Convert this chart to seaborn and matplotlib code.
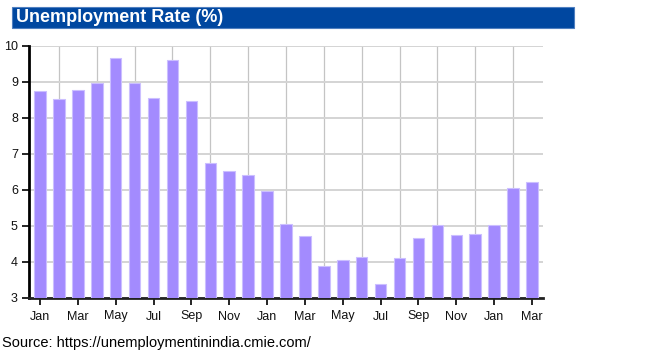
import matplotlib
matplotlib.use("Agg")
import matplotlib.pyplot as plt
import seaborn as sns
import pandas as pd
from matplotlib.patches import Rectangle

# monthly unemployment rate, Jan .. Mar (27 months)
months = ["Jan", "Feb", "Mar", "Apr", "May", "Jun", "Jul", "Aug", "Sep", "Oct", "Nov", "Dec",
          "Jan", "Feb", "Mar", "Apr", "May", "Jun", "Jul", "Aug", "Sep", "Oct", "Nov", "Dec",
          "Jan", "Feb", "Mar"]
rate = [8.74, 8.52, 8.77, 8.96, 9.68, 8.97, 8.56, 9.61, 8.46, 6.75, 6.54, 6.43,
        5.96, 5.06, 4.71, 3.89, 4.05, 4.15, 3.39, 4.11, 4.66, 5.04, 4.75, 4.78,
        5.04, 6.06, 6.22]

df = pd.DataFrame({"idx": range(len(rate)), "rate": rate})

sns.set_style("white")
plt.rcParams["font.family"] = ["Liberation Sans", "DejaVu Sans"]

fig = plt.figure(figsize=(6.47, 3.63), dpi=100)
ax = fig.add_axes([29 / 647, 1 - 298 / 363, (543 - 29) / 647, (298 - 46) / 363])

sns.barplot(data=df, x="idx", y="rate", color="#a38bfe", saturation=1,
            width=0.61, edgecolor="#cbbfff", linewidth=0.8, ax=ax, zorder=3)

ax.set_ylim(3, 10)
ax.set_xlim(-0.58, len(rate) - 1 + 0.58)
ax.set_yticks(range(3, 11))
ax.set_xticks(range(0, len(rate), 2))
ax.set_xticklabels(months[0::2])
ax.set_xticks(range(len(rate)), minor=True)
ax.set_xlabel("")
ax.set_ylabel("")

ax.grid(axis="y", which="major", color="#d4d4d4", linewidth=1.4, zorder=0)
ax.grid(axis="x", which="minor", color="#c4c4c4", linewidth=0.9, zorder=0)
ax.grid(axis="x", which="major", visible=False)
ax.set_axisbelow(True)

for s in ["top", "right"]:
    ax.spines[s].set_visible(False)
ax.spines["left"].set_color("black")
ax.spines["left"].set_linewidth(2)
ax.spines["bottom"].set_color("#222222")
ax.spines["bottom"].set_linewidth(2)
ax.tick_params(axis="both", which="major", direction="out", length=5, width=1.2,
               color="black", labelsize=9, labelcolor="#111111", bottom=True, left=True)
ax.tick_params(axis="x", which="minor", length=0)
ax.tick_params(axis="x", pad=4)
ax.tick_params(axis="y", pad=3)

# title banner
fig.patches.append(Rectangle((12 / 647, 1 - 27.5 / 363), (574 - 12) / 647, 20.5 / 363,
                             transform=fig.transFigure, facecolor="#0047a0",
                             edgecolor="#4f7fc0", linewidth=0.8))
fig.text(16 / 647, 1 - 17.5 / 363, "Unemployment Rate (%)", color="white",
         fontsize=13, fontweight="bold", ha="left", va="center")

fig.text(2 / 647, 1 - 343 / 363, "Source: https://unemploymentinindia.cmie.com/",
         fontsize=10.5, color="black", ha="left", va="center")

fig.savefig("out.png", dpi=100)
